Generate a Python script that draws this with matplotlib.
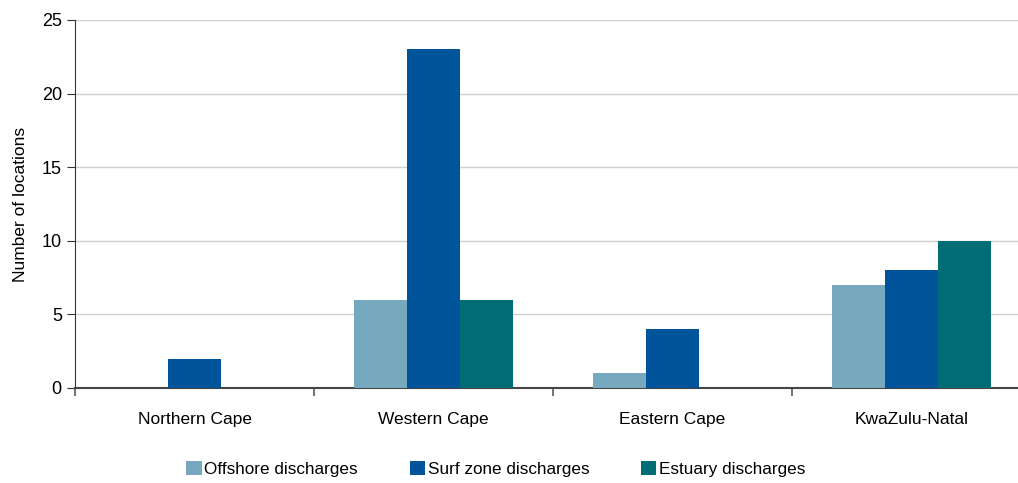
import matplotlib
matplotlib.use("Agg")
import matplotlib.pyplot as plt
import numpy as np

provinces = ["Northern Cape", "Western Cape", "Eastern Cape", "KwaZulu-Natal"]
offshore = [0, 6, 1, 7]
surf_zone = [2, 23, 4, 8]
estuary = [0, 6, 0, 10]
yticks = [0, 5, 10, 15, 20, 25]

plt.rcParams["font.family"] = ["Liberation Sans Narrow", "Liberation Sans", "DejaVu Sans"]

fig = plt.figure(figsize=(10.18, 4.83), dpi=100)
ax = fig.add_axes([0.0737, 0.1967, 0.939, 0.762])

x = np.arange(len(provinces))
w = 0.222
series = [
    ("Offshore discharges", offshore, "#76a9be"),
    ("Surf zone discharges", surf_zone, "#00559a"),
    ("Estuary discharges", estuary, "#006d74"),
]
for i, (name, vals, col) in enumerate(series):
    ax.bar(x + (i - 1) * w, vals, width=w, color=col, label=name, zorder=3)

ax.set_xlim(-0.5, len(provinces) - 0.5)
ax.set_ylim(0, 25)
ax.set_yticks(yticks)
ax.yaxis.grid(True, color="#d0d0d0", lw=1, zorder=0)
ax.set_xticks(x)
ax.set_xticklabels(provinces, fontsize=12.5)
ax.set_xticks(np.arange(-0.5, len(provinces), 1), minor=True)
ax.tick_params(axis="x", which="major", length=0, pad=17)
ax.tick_params(axis="x", which="minor", length=6, color="#777777", width=1.5)
ax.tick_params(axis="y", labelsize=13, length=6, color="#333333")

for s in ["top", "right"]:
    ax.spines[s].set_visible(False)
ax.spines["left"].set_color("#333333")
ax.spines["bottom"].set_color("#444444")
ax.spines["bottom"].set_linewidth(1.5)

ax.set_ylabel("Number of locations", fontsize=12.5, labelpad=10)

fig.legend(loc="lower center", bbox_to_anchor=(0.487, -0.02), ncol=3, frameon=False,
           fontsize=12.35, handlelength=0.9, handleheight=0.9, handletextpad=0.15,
           columnspacing=3.0)

fig.savefig("out.png", dpi=100)
